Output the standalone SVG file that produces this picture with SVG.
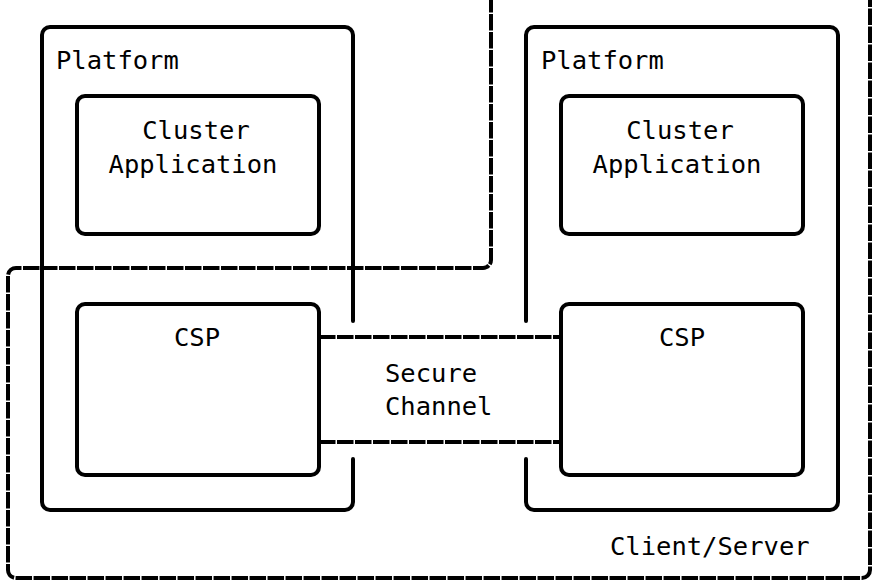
<svg xmlns="http://www.w3.org/2000/svg" width="872" height="582" viewBox="0 0 872 582">
<style>
.box{fill:none;stroke:#000;stroke-width:4;stroke-linecap:round}
.dash{fill:none;stroke:#000;stroke-width:4;stroke-dasharray:16.5 1.5}
text{font-family:"DejaVu Sans Mono",monospace;font-size:25.5px;fill:#000}
.c{text-anchor:middle}
</style>
<rect width="872" height="582" fill="#fff"/>
<g id="client-server">
<path class="dash" d="M491,-4 V260 A8 8 0 0 1 483,268 H16 A8 8 0 0 0 8,276 V570 A8 8 0 0 0 16,578 H862 A8 8 0 0 0 870,570 V-4"/>
<text x="610" y="555">Client/Server</text>
</g>
<g id="platform-left">
<path class="box" d="M353,321 V35 A8 8 0 0 0 345,27 H50 A8 8 0 0 0 42,35 V502 A8 8 0 0 0 50,510 H345 A8 8 0 0 0 353,502 V459"/>
<text x="56" y="69">Platform</text>
</g>
<g id="platform-right">
<path class="box" d="M526,321 V35 A8 8 0 0 1 534,27 H830 A8 8 0 0 1 838,35 V502 A8 8 0 0 1 830,510 H534 A8 8 0 0 1 526,502 V459"/>
<text x="541" y="69">Platform</text>
</g>
<g id="cluster-left">
<rect class="box" x="77" y="96" width="242" height="138" rx="8"/>
<text class="c" x="196" y="139">Cluster</text>
<text class="c" x="193" y="173">Application</text>
</g>
<g id="cluster-right">
<rect class="box" x="561" y="96" width="242" height="138" rx="8"/>
<text class="c" x="680" y="139">Cluster</text>
<text class="c" x="677" y="173">Application</text>
</g>
<g id="csp-left">
<rect class="box" x="77" y="304" width="242" height="171" rx="8"/>
<text class="c" x="197" y="346">CSP</text>
</g>
<g id="csp-right">
<rect class="box" x="561" y="304" width="242" height="171" rx="8"/>
<text class="c" x="682" y="346">CSP</text>
</g>
<g id="connectors">
<line class="dash" x1="319" y1="337" x2="561" y2="337"/>
<line class="dash" x1="319" y1="442" x2="561" y2="442"/>
</g>
<g id="secure-channel">
<text x="385" y="382">Secure</text>
<text x="385" y="415">Channel</text>
</g>
</svg>
